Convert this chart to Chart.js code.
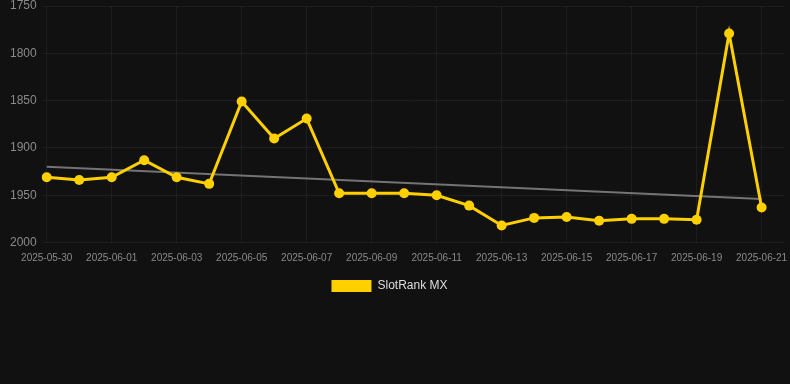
<!DOCTYPE html>
<html>
<head>
<meta charset="utf-8">
<script src="https://cdn.jsdelivr.net/npm/chart.js@4.4.1/dist/chart.umd.min.js"></script>
<style>
  html, body { margin: 0; padding: 0; background: #111111; }
  #wrap { position: relative; width: 790px; height: 302px; }
</style>
</head>
<body>
<div id="wrap"><canvas id="chart"></canvas></div>
<script>
/* ======================================================
   DATA
====================================================== */

const dates = [
  '2025-05-30', '2025-05-31', '2025-06-01', '2025-06-02', '2025-06-03',
  '2025-06-04', '2025-06-05', '2025-06-06', '2025-06-07', '2025-06-08',
  '2025-06-09', '2025-06-10', '2025-06-11', '2025-06-12', '2025-06-13',
  '2025-06-14', '2025-06-15', '2025-06-16', '2025-06-17', '2025-06-18',
  '2025-06-19', '2025-06-20', '2025-06-21'
];

const rankMX = [
  1931, 1934, 1931, 1913, 1931,
  1938, 1851, 1890, 1869, 1948,
  1948, 1948, 1950, 1961, 1982,
  1974, 1973, 1977, 1975, 1975,
  1976, 1779, 1963
];

// trend line, read at both ends of the range
const trendStart = 1920;
const trendEnd = 1954;

const yTicks = [1750, 1800, 1850, 1900, 1950, 2000];

/* ======================================================
   CHART
====================================================== */

const GOLD = '#FFD000';
const GRID = 'rgba(255,255,255,0.05)';
const lastIdx = dates.length - 1;

// legend sits a little left of the canvas centre
const legendShift = {
  id: 'legendShift',
  afterLayout(chart) {
    const lg = chart.legend;
    if (!lg) return;
    lg.left -= 8;
    lg.right -= 8;
  }
};

new Chart(document.getElementById('chart'), {
  type: 'line',
  plugins: [legendShift],
  data: {
    datasets: [
      {
        label: 'SlotRank MX',
        data: rankMX.map((v, i) => ({ x: i, y: v })),
        borderColor: GOLD,
        backgroundColor: GOLD,
        borderWidth: 3,
        pointRadius: 5,
        pointBackgroundColor: GOLD,
        pointBorderWidth: 0,
        tension: 0,
        fill: false
      },
      {
        label: 'trend',
        data: [{ x: 0, y: trendStart }, { x: lastIdx, y: trendEnd }],
        borderColor: 'rgba(150,150,150,0.75)',
        borderWidth: 2,
        pointRadius: 0,
        fill: false
      }
    ]
  },
  options: {
    responsive: true,
    maintainAspectRatio: false,
    animation: false,
    layout: { padding: { top: 6, right: 0, left: 5, bottom: 0 } },
    plugins: {
      legend: {
        position: 'bottom',
        labels: {
          color: '#dddddd',
          font: { size: 12 },
          boxWidth: 40,
          boxHeight: 12,
          padding: 5.5,
          generateLabels: chart =>
            Chart.defaults.plugins.legend.labels.generateLabels(chart)
              .filter(item => item.text !== 'trend')
              .map(item => ({ ...item, lineWidth: 0, strokeStyle: GOLD }))
        }
      },
      tooltip: { enabled: false }
    },
    scales: {
      x: {
        type: 'linear',
        min: -0.154,
        max: 22.72,
        grid: { color: GRID, drawTicks: false },
        border: { display: false },
        afterFit: axis => { axis.paddingLeft = 0; axis.paddingRight = 0; },
        ticks: {
          stepSize: 2,
          includeBounds: false,
          autoSkip: false,
          maxRotation: 0,
          padding: 10,
          color: '#8a8a8a',
          font: { size: 10 },
          callback: v => dates[v] ?? ''
        }
      },
      y: {
        reverse: true,
        min: yTicks[0],
        max: yTicks[yTicks.length - 1],
        grid: { color: GRID, drawTicks: false },
        border: { display: false },
        afterBuildTicks: axis => { axis.ticks = yTicks.map(value => ({ value })); },
        afterFit: axis => { axis.paddingTop = 0; axis.paddingBottom = 0; },
        ticks: {
          color: '#8a8a8a',
          font: { size: 12 },
          padding: 5,
          callback: v => String(v)
        }
      }
    }
  }
});
</script>
</body>
</html>
